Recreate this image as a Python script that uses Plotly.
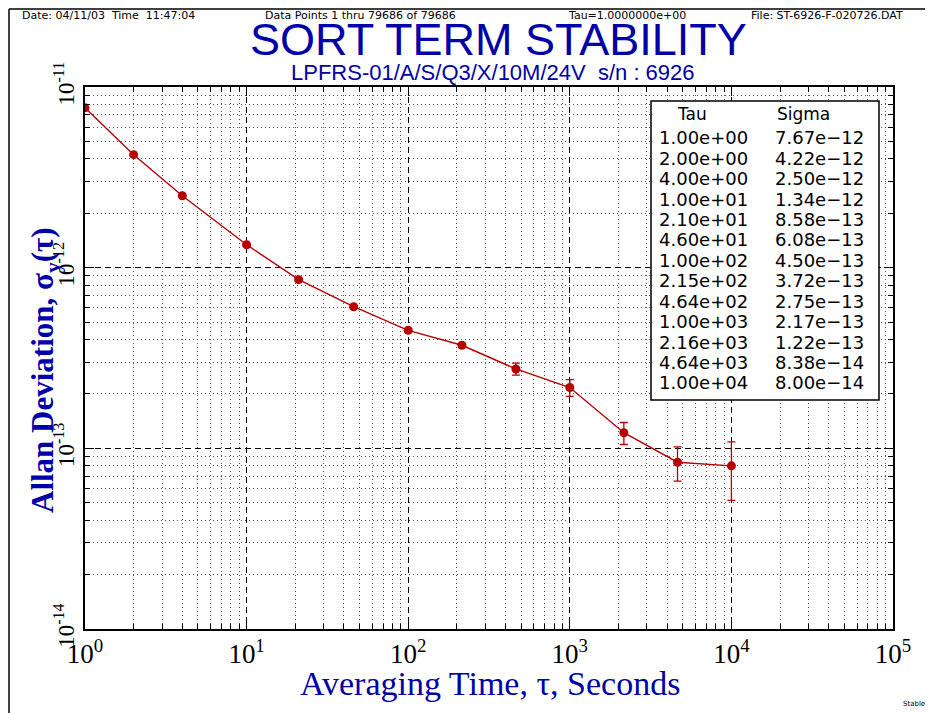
import plotly.graph_objects as go

# ---- data ----
tau = [1.00e+00, 2.00e+00, 4.00e+00, 1.00e+01, 2.10e+01, 4.60e+01, 1.00e+02,
       2.15e+02, 4.64e+02, 1.00e+03, 2.16e+03, 4.64e+03, 1.00e+04]
sigma = [7.67e-12, 4.22e-12, 2.50e-12, 1.34e-12, 8.58e-13, 6.08e-13, 4.50e-13,
         3.72e-13, 2.75e-13, 2.17e-13, 1.22e-13, 8.38e-14, 8.00e-14]
sigma_err = [2.5e-14, 2.0e-14, 1.5e-14, 1.1e-14, 9e-15, 8e-15, 8e-15,
             9e-15, 2.1e-14, 2.3e-14, 1.7e-14, 1.8e-14, 2.85e-14]

x_tick_vals = [1, 10, 100, 1000, 10000, 100000]
x_tick_text = ["10<sup>0</sup>", "10<sup>1</sup>", "10<sup>2</sup>", "10<sup>3</sup>",
               "10<sup>4</sup>", "10<sup>5</sup>"]
y_tick_vals = [1e-14, 1e-13, 1e-12, 1e-11]
y_tick_text = ["10<sup>-14</sup>", "10<sup>-13</sup>", "10<sup>-12</sup>", "10<sup>-11</sup>"]

title = "SORT TERM STABILITY"
subtitle = "LPFRS-01/A/S/Q3/X/10M/24V&nbsp;&nbsp;s/n : 6926"
header_left = "Date: 04/11/03&nbsp;&nbsp;Time&nbsp;&nbsp;11:47:04"
header_mid = "Data Points 1 thru 79686 of 79686"
header_tau = "Tau=1.0000000e+00"
header_file = "File: ST-6926-F-020726.DAT"

BLUE = "#0000A8"
RED = "#B80000"
SERIF = "Liberation Serif, Times New Roman, serif"
SANS = "Liberation Sans, Arial, sans-serif"
THIN = "DejaVu Sans, sans-serif"

# page offset of the browser (body margin)
OFF = 8
W, H = 933 - OFF, 713 - OFF
# plot area in screen pixels
SX0, SY0, SX1, SY1 = 85, 87, 893, 629
L, T = SX0 - OFF, SY0 - OFF
R, B = W - (SX1 - OFF), H - (SY1 - OFF)
pw, ph = SX1 - SX0, SY1 - SY0


def px(x):
    return (x - SX0) / pw


def py(y):
    return (SY1 - y) / ph


minor_x = [m * 10 ** k for k in range(0, 5) for m in range(2, 10)]
minor_y = [m * 10.0 ** k for k in range(-14, -11) for m in range(2, 10)]

fig = go.Figure()
fig.add_trace(go.Scatter(
    x=tau, y=sigma, mode="lines+markers",
    line=dict(color=RED, width=1.4),
    marker=dict(color=RED, size=9, symbol="circle"),
    error_y=dict(type="data", array=sigma_err, visible=True, color=RED,
                 thickness=1.3, width=4),
    showlegend=False,
))

axis_common = dict(
    showline=True, linecolor="black", linewidth=1.5, mirror="allticks",
    ticks="inside", ticklen=9, tickcolor="black", tickwidth=1,
    showgrid=True, gridcolor="black", gridwidth=1, griddash="6px,4px",
    zeroline=False,
)
minor_common = dict(tickmode="array", ticks="inside", ticklen=5,
                    tickcolor="black", showgrid=True, gridcolor="#555555",
                    gridwidth=1, griddash="1px,3px")

fig.update_xaxes(
    type="log", range=[0, 5], tickmode="array",
    tickvals=x_tick_vals, ticktext=x_tick_text,
    minor=dict(tickvals=minor_x, **minor_common),
    tickfont=dict(family=SERIF, size=27, color="black"),
    **axis_common,
)
fig.update_yaxes(
    type="log", range=[-14, -11], tickmode="array",
    tickvals=y_tick_vals, ticktext=y_tick_text, tickangle=-90,
    minor=dict(tickvals=minor_y, **minor_common),
    tickfont=dict(family=SERIF, size=23, color="black"),
    **axis_common,
)

annotations = []
shapes = []

# headers
for text, xpos in [(header_left, 20), (header_mid, 263), (header_tau, 566), (header_file, 749)]:
    annotations.append(dict(text=text, x=px(xpos), y=py(15), xref="paper", yref="paper",
                            xanchor="left", yanchor="middle", showarrow=False,
                            font=dict(family=THIN, size=11, color="black")))

annotations.append(dict(text=title, x=px(498), y=py(40), xref="paper", yref="paper",
                        xanchor="center", yanchor="middle", showarrow=False,
                        font=dict(family=SANS, size=45, color=BLUE)))
annotations.append(dict(text=subtitle, x=px(493), y=py(73), xref="paper", yref="paper",
                        xanchor="center", yanchor="middle", showarrow=False,
                        font=dict(family=SANS, size=22, color=BLUE)))

# axis titles
annotations.append(dict(text="Averaging Time, τ, Seconds", x=px(490), y=py(683),
                        xref="paper", yref="paper", xanchor="center", yanchor="middle",
                        showarrow=False, font=dict(family=SERIF, size=34, color=BLUE)))
annotations.append(dict(text="<b>Allan Deviation, σ<sub>y</sub>(τ)</b>", x=px(45), y=py(370),
                        xref="paper", yref="paper", xanchor="center", yanchor="middle",
                        textangle=-90, showarrow=False,
                        font=dict(family=SERIF, size=31, color=BLUE)))

annotations.append(dict(text="Stable32", x=px(901), y=py(704), xref="paper", yref="paper",
                        xanchor="left", yanchor="middle", showarrow=False,
                        font=dict(family=THIN, size=7, color="black")))

# table box
shapes.append(dict(type="rect", xref="paper", yref="paper",
                   x0=px(651), x1=px(879), y0=py(400), y1=py(101),
                   fillcolor="white", line=dict(color="black", width=1.5), layer="above"))
annotations.append(dict(text="Tau", x=px(692), y=py(114), xref="paper", yref="paper",
                        xanchor="center", yanchor="middle", showarrow=False,
                        font=dict(family=THIN, size=17, color="black")))
annotations.append(dict(text="Sigma", x=px(803), y=py(114), xref="paper", yref="paper",
                        xanchor="center", yanchor="middle", showarrow=False,
                        font=dict(family=THIN, size=17, color="black")))
for i, (t, s) in enumerate(zip(tau, sigma)):
    yy = 138 + i * 20.4
    annotations.append(dict(text=f"{t:.2e}", x=px(657), y=py(yy), xref="paper", yref="paper",
                            xanchor="left", yanchor="middle", showarrow=False,
                            font=dict(family=THIN, size=18, color="black")))
    annotations.append(dict(text=f"{s:.2e}".replace("-", "−"), x=px(773), y=py(yy),
                            xref="paper", yref="paper",
                            xanchor="left", yanchor="middle", showarrow=False,
                            font=dict(family=THIN, size=18, color="black")))

# outer page border (left and top)
shapes.append(dict(type="line", xref="paper", yref="paper",
                   x0=px(9), x1=px(9), y0=py(9), y1=py(720),
                   line=dict(color="black", width=1.5)))
shapes.append(dict(type="line", xref="paper", yref="paper",
                   x0=px(9), x1=px(940), y0=py(9), y1=py(9),
                   line=dict(color="black", width=1.5)))

fig.update_layout(
    width=W, height=H,
    margin=dict(l=L, r=R, t=T, b=B),
    paper_bgcolor="white", plot_bgcolor="white",
    annotations=annotations, shapes=shapes,
    showlegend=False,
)

fig.write_html("out.html")
